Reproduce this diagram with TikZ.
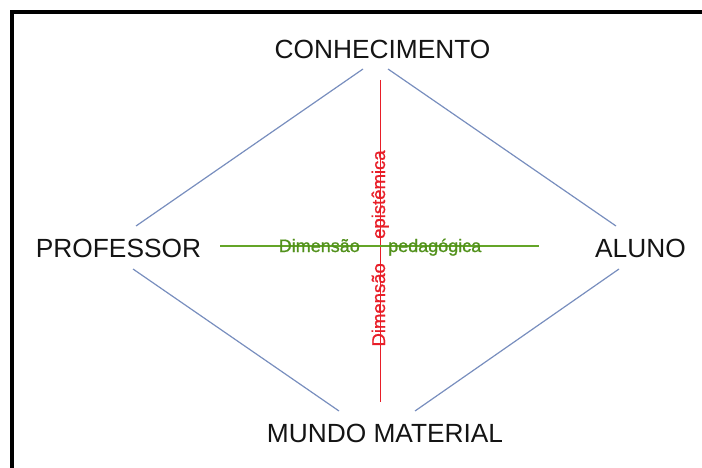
\documentclass[tikz,border=0pt]{standalone}
\usepackage{fontspec}
\setmainfont{Liberation Sans}
\newfontfamily\dimfont{Liberation Sans}[FakeBold=0.9]
\definecolor{bluel}{RGB}{120,142,190}
\definecolor{dimred}{RGB}{232,30,40}
\definecolor{dimgreen}{RGB}{100,165,40}
\definecolor{txtgreen}{RGB}{82,145,28}
\definecolor{txt}{RGB}{20,20,20}
\begin{document}
\begin{tikzpicture}[x=1pt,y=-1pt,
  pole/.style={inner sep=0pt, anchor=base, text=txt, font=\fontsize{26.3}{30}\selectfont},
  dimtxt/.style={inner sep=0pt, font=\dimfont\fontsize{18}{20}\selectfont},
  dimvtxt/.style={inner sep=0pt, rotate=90, font=\dimfont\fontsize{18.5}{20}\selectfont},
  edge/.style={draw=bluel, line width=1.2pt},
  frame/.style={draw=black, line width=4pt}]
\useasboundingbox (0,0) rectangle (702,468);
% frame (only top and left visible)
\draw[frame] (12,470) -- (12,12) -- (704,12);
% pole labels
\node[pole] (conh) at (382.5,59) {CONHECIMENTO};
\node[pole] (prof) at (118.5,257) {PROFESSOR};
\node[pole] (alun) at (640.5,257) {ALUNO};
\node[pole] (mund) at (385,442) {MUNDO MATERIAL};
% connector end points
\coordinate (c1) at (363,69);
\coordinate (c2) at (388,69);
\coordinate (p1) at (136,226);
\coordinate (p2) at (133,269);
\coordinate (a1) at (616,226);
\coordinate (a2) at (619,269);
\coordinate (m1) at (339,411);
\coordinate (m2) at (415,411);
\draw[edge] (c1) -- (p1);
\draw[edge] (c2) -- (a1);
\draw[edge] (p2) -- (m1);
\draw[edge] (a2) -- (m2);
% dimension axes
\coordinate (vt) at (380.5,80);
\coordinate (vb) at (380.5,402);
\coordinate (hl) at (220,246);
\coordinate (hr) at (539,246);
\draw[dimred, line width=1.1pt] (vt) -- (vb);
\draw[dimgreen, line width=1.1pt] (hl) -- (hr);
% dimension labels
\node[dimtxt, text=txtgreen, anchor=base east] (pd1) at (360,252) {Dimensão};
\node[dimtxt, text=txtgreen, anchor=base west] (pd2) at (388,252) {pedagógica};
\node[dimvtxt, text=dimred, anchor=base east] (ep1) at (385,263) {Dimensão};
\node[dimvtxt, text=dimred, anchor=base west] (ep2) at (385,239) {epistêmica};
\end{tikzpicture}
\end{document}
